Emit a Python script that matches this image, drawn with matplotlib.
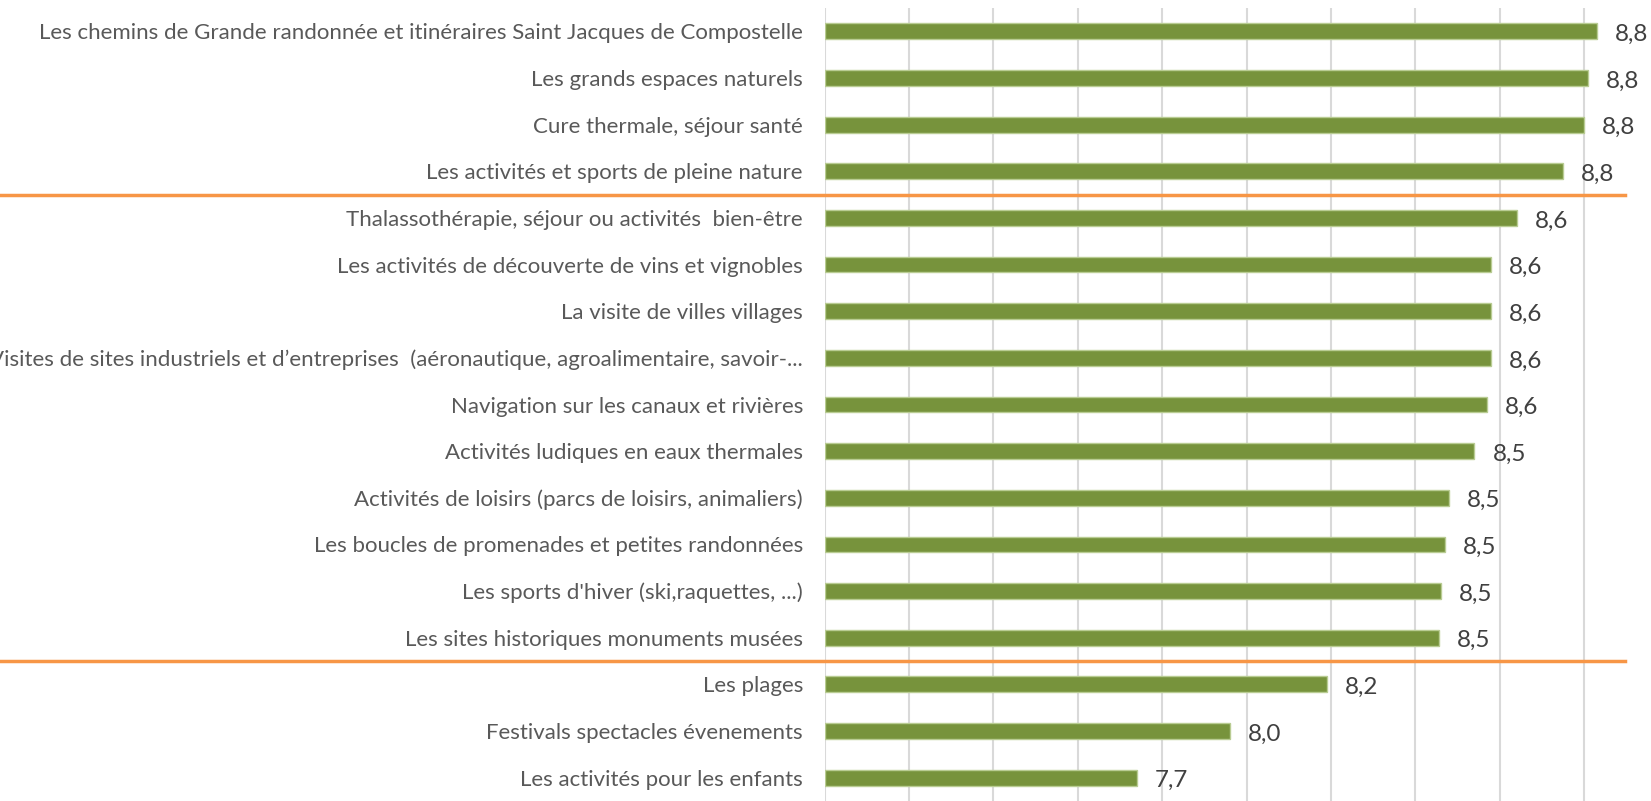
import matplotlib.pyplot as plt
from matplotlib.transforms import blended_transform_factory

# categories top -> bottom
categories = [
    "Les chemins de Grande randonnée et itinéraires Saint Jacques de Compostelle",
    "Les grands espaces naturels",
    "Cure thermale, séjour santé",
    "Les activités et sports de pleine nature",
    "Thalassothérapie, séjour ou activités  bien-être",
    "Les activités de découverte de vins et vignobles",
    "La visite de villes villages",
    "Visites de sites industriels et d\u2019entreprises  (aéronautique, agroalimentaire, savoir-...",
    "Navigation sur les canaux et rivières",
    "Activités ludiques en eaux thermales",
    "Activités de loisirs (parcs de loisirs, animaliers)",
    "Les boucles de promenades et petites randonnées",
    "Les sports d'hiver (ski,raquettes, ...)",
    "Les sites historiques monuments musées",
    "Les plages",
    "Festivals spectacles évenements",
    "Les activités pour les enfants",
]
values = [8.83, 8.81, 8.80, 8.75, 8.64, 8.58, 8.58, 8.58, 8.57, 8.54,
          8.48, 8.47, 8.46, 8.455, 8.19, 7.96, 7.74]
# orange separators after these rows
separators = [3.5, 13.5]

W, H = 1651, 801
fig = plt.figure(figsize=(W / 100, H / 100), dpi=100)
ax = fig.add_axes([824.5 / W, 0, 1 - 824.5 / W, 1 - 8 / H])

y = list(range(len(categories)))
ax.barh(y, [v - 7.0 for v in values], left=7.0, height=0.34,
        color='#77933C', edgecolor='#B9CC93', linewidth=1, zorder=3)

ax.set_xlim(7.0, 7.0 + (W - 824.5) / 422)
ax.set_ylim(len(categories) - 0.5, -0.5)
ax.set_xticks([7.0 + 0.2 * i for i in range(10)])
ax.grid(axis='x', color='#D9D9D9', linewidth=1.5, zorder=0)
ax.tick_params(axis='x', bottom=False, labelbottom=False)
ax.tick_params(axis='y', left=False, pad=12)
ax.set_yticks(y)
ax.set_yticklabels(categories, fontsize=16, color='#595959', family='Lato')
for s in ax.spines.values():
    s.set_visible(False)

for yi, v in zip(y, values):
    ax.annotate(f"{v:.1f}".replace('.', ','), (v, yi), xytext=(18, -3),
                textcoords='offset pixels', va='center', ha='left',
                fontsize=17.5, color='#404040', family='Lato')

# separators run from the left edge of the picture
tr = blended_transform_factory(fig.transFigure, ax.transData)
for sp in separators:
    ax.plot([0, 1625 / W], [sp, sp], transform=tr, color='#F79646',
            linewidth=2.5, clip_on=False, zorder=4)

fig.savefig('out.png', dpi=100)
